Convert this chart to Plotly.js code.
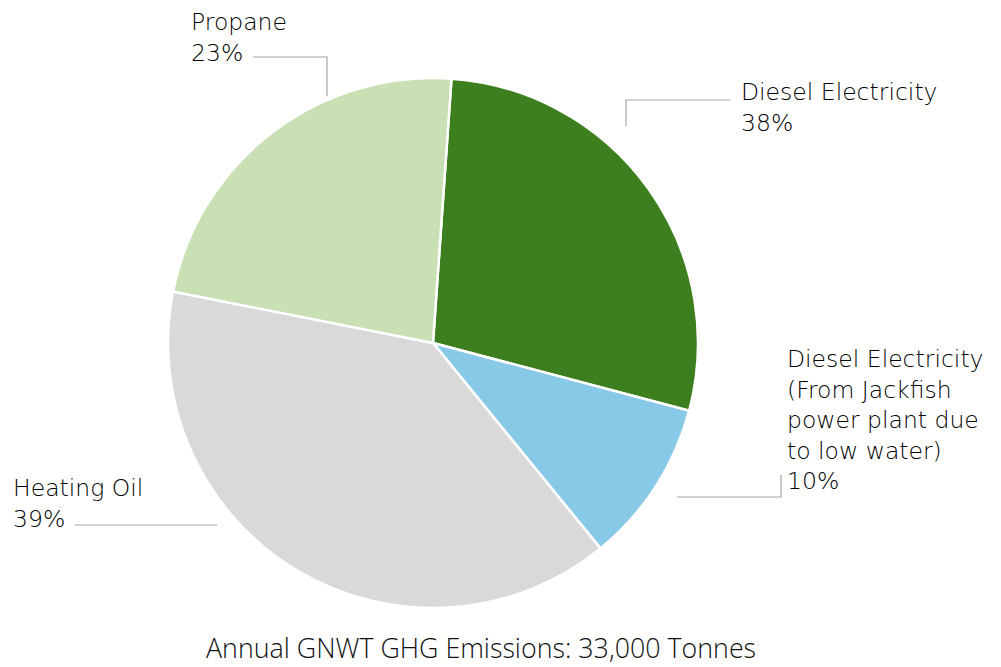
<!DOCTYPE html>
<html>
<head>
<meta charset="utf-8">
<script src="https://cdn.plot.ly/plotly-3.0.1.min.js"></script>
<style>html,body{margin:0;padding:0;background:#fff;}#chart{width:1001px;height:667px;}</style>
</head>
<body>
<div id="chart"></div>
<script>
const categories = ["Diesel Electricity", "Diesel Electricity (From Jackfish power plant due to low water)", "Heating Oil", "Propane"];
const values = [28, 10, 39, 23];
// Label texts as printed on the original chart
const labelTexts = [
  "Diesel Electricity<br>38%",
  "Diesel Electricity<br>(From Jackfish<br>power plant due<br>to low water)<br>10%",
  "Heating Oil<br>39%",
  "Propane<br>23%"
];
const colors = ["#3d7f1e", "#89c9e8", "#d9d9d9", "#c8e0b4"];
const chartTitle = "Annual GNWT GHG Emissions: 33,000 Tonnes";

const W = 1001, H = 667;
const px = x => x / W;
const py = y => 1 - y / H;

const labelFont = {family: "'DejaVu Sans', sans-serif", size: 23.5, weight: 300, color: "#000"};
const labelPos = [
  {x: 739, y: 76},
  {x: 785, y: 343},
  {x: 11, y: 472},
  {x: 189, y: 6}
];
const annotations = labelTexts.map((t, i) => ({
  text: t, xref: "paper", yref: "paper",
  x: px(labelPos[i].x), y: py(labelPos[i].y),
  xanchor: "left", yanchor: "top", align: "left",
  showarrow: false, font: labelFont
}));
annotations.push({
  text: chartTitle, xref: "paper", yref: "paper",
  x: px(481), y: py(668), xanchor: "center", yanchor: "bottom",
  showarrow: false,
  font: {family: "'Open Sans', 'Noto Sans', sans-serif", size: 26.8, weight: 300, color: "#111"}
});

const lineStyle = {color: "#a6a6a6", width: 1.2};
const leader = (pts) => ({
  type: "path", xref: "paper", yref: "paper",
  path: "M" + pts.map(p => px(p[0]) + "," + py(p[1])).join(" L"),
  line: lineStyle
});
const shapes = [
  leader([[626, 126], [626, 100], [730, 100]]),
  leader([[677, 497], [781, 497], [781, 475]]),
  leader([[75, 525], [217, 525]]),
  leader([[253, 57], [327, 57], [327, 96]])
];

const cx = 433, cy = 343, r = 265;
const trace = {
  type: "pie",
  labels: categories,
  values: values,
  sort: false,
  direction: "clockwise",
  rotation: 4,
  marker: {colors: colors, line: {color: "#ffffff", width: 2.5}},
  textinfo: "none",
  hoverinfo: "label+percent",
  domain: {x: [px(cx - r), px(cx + r)], y: [py(cy + r), py(cy - r)]}
};

Plotly.newPlot("chart", [trace], {
  width: W, height: H,
  margin: {l: 0, r: 0, t: 0, b: 0},
  showlegend: false,
  paper_bgcolor: "#ffffff",
  annotations: annotations,
  shapes: shapes
}, {displayModeBar: false, staticPlot: true});
</script>
</body>
</html>
